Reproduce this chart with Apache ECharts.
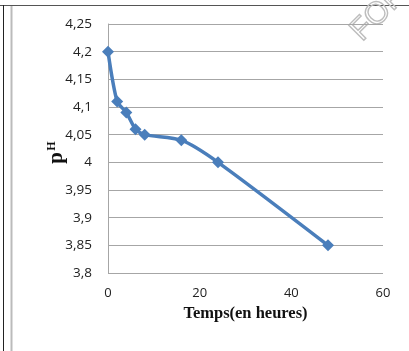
<!DOCTYPE html>
<html><head><meta charset="utf-8">
<script src="https://cdn.jsdelivr.net/npm/echarts@6/dist/echarts.min.js"></script>
<style>html,body{margin:0;padding:0;background:#fff;}#c{width:409px;height:351px;}</style>
</head><body><div id="c"></div>
<script>
var times = [0, 2, 4, 6, 8, 16, 24, 48];
var phValues = [4.2, 4.11, 4.09, 4.06, 4.05, 4.04, 4.0, 3.85];
var xTitle = 'Temps(en heures)';
var yMin = 3.8, yMax = 4.25, yStep = 0.05;
var xMin = 0, xMax = 60, xStep = 20;

var chart = echarts.init(document.getElementById('c'), null, {renderer: 'canvas'});
var data = times.map(function (t, i) { return [t, phValues[i]]; });
chart.setOption({
  animation: false,
  backgroundColor: '#fff',
  grid: {left: 108, right: 26, top: 24, bottom: 78},
  xAxis: {
    type: 'value', min: xMin, max: xMax, interval: xStep,
    name: xTitle, nameLocation: 'middle', nameGap: 29,
    nameTextStyle: {fontFamily: 'Liberation Serif', fontWeight: 'bold', fontSize: 16.5, color: '#111'},
    axisLine: {show: false}, axisTick: {show: false},
    splitLine: {show: false},
    axisLabel: {fontFamily: 'Open Sans', fontSize: 13, color: '#222', margin: 14}
  },
  yAxis: {
    type: 'value', min: yMin, max: yMax, interval: yStep,
    axisLine: {show: true, lineStyle: {color: '#a6a6a6', width: 1}},
    axisTick: {show: false},
    splitLine: {show: true, lineStyle: {color: '#a6a6a6', width: 1}},
    axisLabel: {fontFamily: 'Open Sans', fontSize: 13.5, color: '#222', margin: 16,
      formatter: function (v) { return (Math.round(v * 100) / 100).toString().replace('.', ','); }}
  },
  series: [{
    type: 'line', data: data, smooth: 0.25,
    symbol: 'diamond', symbolSize: 12,
    lineStyle: {color: '#4a7ebb', width: 3.5},
    itemStyle: {color: '#4a7ebb'}
  }],
  graphic: [
    {type: 'line', shape: {x1: 0, y1: 5.5, x2: 409, y2: 5.5}, style: {stroke: '#555', lineWidth: 1}},
    {type: 'line', shape: {x1: 3.5, y1: 5, x2: 3.5, y2: 351}, style: {stroke: '#222', lineWidth: 1}},
    {type: 'line', shape: {x1: 11.5, y1: 6, x2: 11.5, y2: 351}, style: {stroke: '#bbb', lineWidth: 2}},
    {type: 'group', x: 57, y: 152, rotation: Math.PI / 2, children: [
      {type: 'text', x: -6, y: 0, style: {text: 'p', font: 'bold 21px "Liberation Serif"', fill: '#111', textAlign: 'center', textVerticalAlign: 'middle'}},
      {type: 'text', x: 6, y: -5, style: {text: 'H', font: 'bold 12px "Liberation Serif"', fill: '#111', textAlign: 'center', textVerticalAlign: 'middle'}}
    ]},
    {type: 'text', x: 356, y: 36, rotation: Math.PI / 4, style: {text: 'FOR', font: '31px "Liberation Sans"', fill: 'rgba(0,0,0,0)', stroke: '#bdbdbd', lineWidth: 1.4, textVerticalAlign: 'middle'}}
  ]
});
</script></body></html>
